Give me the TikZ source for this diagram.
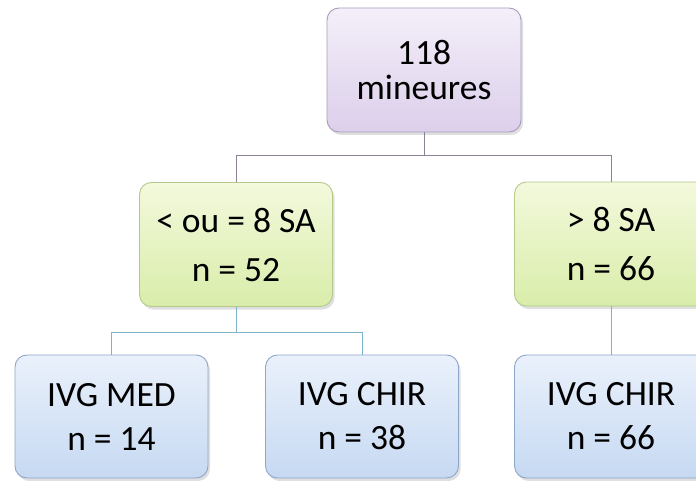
\documentclass[tikz,border=0pt]{standalone}
\usepackage{fontspec}
\setmainfont{Carlito}
\usetikzlibrary{shadows}
\definecolor{pTop}{HTML}{F4EFF9}
\definecolor{pBot}{HTML}{DCCFEB}
\definecolor{pBrd}{HTML}{A99CBA}
\definecolor{gTop}{HTML}{F3F9DC}
\definecolor{gBot}{HTML}{D9EDAA}
\definecolor{gBrd}{HTML}{B5C98A}
\definecolor{bTop}{HTML}{EAF1FB}
\definecolor{bBot}{HTML}{C6D9F2}
\definecolor{bBrd}{HTML}{8DA7CA}
\definecolor{lnA}{HTML}{8C8199}
\definecolor{lnB}{HTML}{7DB3CB}
\tikzset{
  boxbase/.style={rounded corners=12pt, line width=0.9pt, align=center,
    font=\fontsize{35.5}{36}\selectfont, inner sep=0pt,
    drop shadow={opacity=0.25, shadow xshift=2pt, shadow yshift=-3pt}},
  topbox/.style={boxbase, draw=pBrd, top color=pTop, bottom color=pBot,
    minimum width=194pt, minimum height=124pt},
  greenbox/.style={boxbase, draw=gBrd, top color=gTop, bottom color=gBot,
    minimum width=193pt, minimum height=124pt},
  bluebox/.style={boxbase, draw=bBrd, top color=bTop, bottom color=bBot,
    minimum width=193pt, minimum height=123pt},
  connA/.style={draw=lnA, line width=0.9pt},
  connB/.style={draw=lnB, line width=0.9pt}
}
\begin{document}
\begin{tikzpicture}[x=1pt,y=-1pt]
\useasboundingbox (0,0) rectangle (696,481);
\fill[white] (0,0) rectangle (696,481);
\node[topbox] (top) at (424,70) {118\\[-1pt]mineures};
\node[greenbox] (gl) at (236,244.5) {< ou = 8 SA\\[13pt]n = 52};
\node[greenbox] (gr) at (611,244) {> 8 SA\\[13pt]n = 66};
\node[bluebox] (b1) at (111.5,416.5) {IVG MED\\[8pt]n = 14};
\node[bluebox] (b2) at (362,416.5) {IVG CHIR\\[8pt]n = 38};
\node[bluebox] (b3) at (611,416.5) {IVG CHIR\\[8pt]n = 66};
\coordinate (j1) at (424,155);
\coordinate (j2) at (236,332);
\draw[connA] (top.south) -- (j1) -| (gl.north);
\draw[connA] (j1) -| (gr.north);
\draw[connB] (gl.south) -- (j2) -| (b1.north);
\draw[connB] (j2) -| (b2.north);
\draw[connB] (gr.south) -- (b3.north);
\end{tikzpicture}
\end{document}
